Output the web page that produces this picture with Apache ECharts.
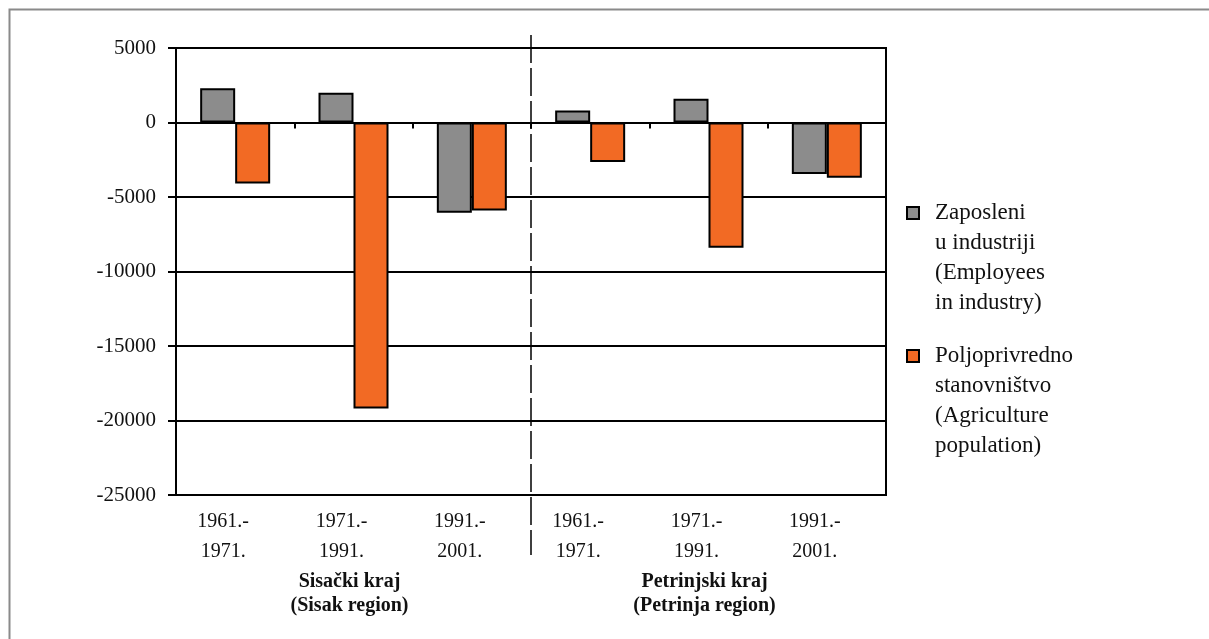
<!DOCTYPE html>
<html><head><meta charset="utf-8">
<script src="https://cdn.jsdelivr.net/npm/echarts@6/dist/echarts.min.js"></script>
<style>html,body{margin:0;padding:0;background:#fff}#c{width:1209px;height:639px}</style>
</head><body><div id="c"></div>
<script>
const categories = ['1961.-\n1971.', '1971.-\n1991.', '1991.-\n2001.', '1961.-\n1971.', '1971.-\n1991.', '1991.-\n2001.'];
const regions = ['Sisački kraj\n(Sisak region)', 'Petrinjski kraj\n(Petrinja region)'];
const seriesNames = ['Zaposleni\nu industriji\n(Employees\nin industry)', 'Poljoprivredno\nstanovništvo\n(Agriculture\npopulation)'];
const employees = [2300, 2000, -6050, 800, 1600, -3450];
const agriculture = [-4100, -19200, -5900, -2650, -8400, -3700];
const yTicks = { min: -25000, max: 5000, interval: 5000 };

const colors = ['#8c8c8c', '#f26a24'];
const serif = '"Liberation Serif", "DejaVu Serif", serif';
const chart = echarts.init(document.getElementById('c'));
const G = { left: 176, top: 48, right: 323, bottom: 144 };

const option = {
  animation: false,
  backgroundColor: '#fff',
  grid: { left: G.left, top: G.top, right: G.right, bottom: G.bottom, show: true, borderColor: '#000', borderWidth: 2, backgroundColor: 'transparent' },
  xAxis: [
    { type: 'category', data: categories, axisLine: { onZero: true, lineStyle: { color: '#000', width: 1.2 } },
      axisTick: { show: true, length: 6, lineStyle: { color: '#000', width: 2 } }, axisLabel: { show: false }, splitLine: { show: false } },
    { type: 'category', data: categories, position: 'bottom', axisLine: { show: false }, axisTick: { show: false },
      axisLabel: { fontFamily: serif, fontSize: 20, color: '#111', lineHeight: 30, margin: 12, padding: [0, 24, 0, 0] } },
    { type: 'category', data: regions, position: 'bottom', axisLine: { show: false }, axisTick: { show: false },
      axisLabel: { fontFamily: serif, fontSize: 20, fontWeight: 'bold', color: '#111', lineHeight: 24, margin: 75, padding: [0, 8, 0, 0] } }
  ],
  yAxis: {
    type: 'value', min: yTicks.min, max: yTicks.max, interval: yTicks.interval,
    axisLine: { show: true, lineStyle: { color: '#000', width: 2 } },
    axisTick: { show: true, length: 8, lineStyle: { color: '#000', width: 2 } },
    axisLabel: { fontFamily: serif, fontSize: 21, color: '#111', margin: 20, formatter: v => String(v) },
    splitLine: { show: true, lineStyle: { color: '#000', width: 2 } }
  },
  series: [
    { name: seriesNames[0], type: 'bar', xAxisIndex: 0, data: employees, barWidth: 35, barGap: '0%', barCategoryGap: '41%',
      itemStyle: { color: colors[0], borderColor: '#000', borderWidth: 2 } },
    { name: seriesNames[1], type: 'bar', xAxisIndex: 0, data: agriculture, barWidth: 35, barGap: '0%',
      itemStyle: { color: colors[1], borderColor: '#000', borderWidth: 2 } }
  ]
};
chart.setOption(option);

const half = categories.length / 2;
const xMid = (chart.convertToPixel({ xAxisIndex: 0 }, half - 1) + chart.convertToPixel({ xAxisIndex: 0 }, half)) / 2;
const legendTops = [198, 341];
const graphics = [
  { type: 'rect', shape: { x: 9.5, y: 9.5, width: 1400, height: 900 }, style: { fill: 'none', stroke: '#8a8a8a', lineWidth: 2 }, silent: true },
  { type: 'line', shape: { x1: xMid, y1: 35, x2: xMid, y2: 555 }, style: { stroke: '#000', lineWidth: 1.5, lineDash: [28, 5] }, z: 10 }
];
seriesNames.forEach((n, i) => {
  graphics.push({ type: 'rect', shape: { x: 907, y: legendTops[i] + 9, width: 12, height: 12 }, style: { fill: colors[i], stroke: '#000', lineWidth: 2 } });
  graphics.push({ type: 'text', x: 935, y: legendTops[i], style: { text: n, fontFamily: serif, fontSize: 23, lineHeight: 30, fill: '#111', textVerticalAlign: 'top' } });
});
chart.setOption({ graphic: graphics });
</script>
</body></html>
